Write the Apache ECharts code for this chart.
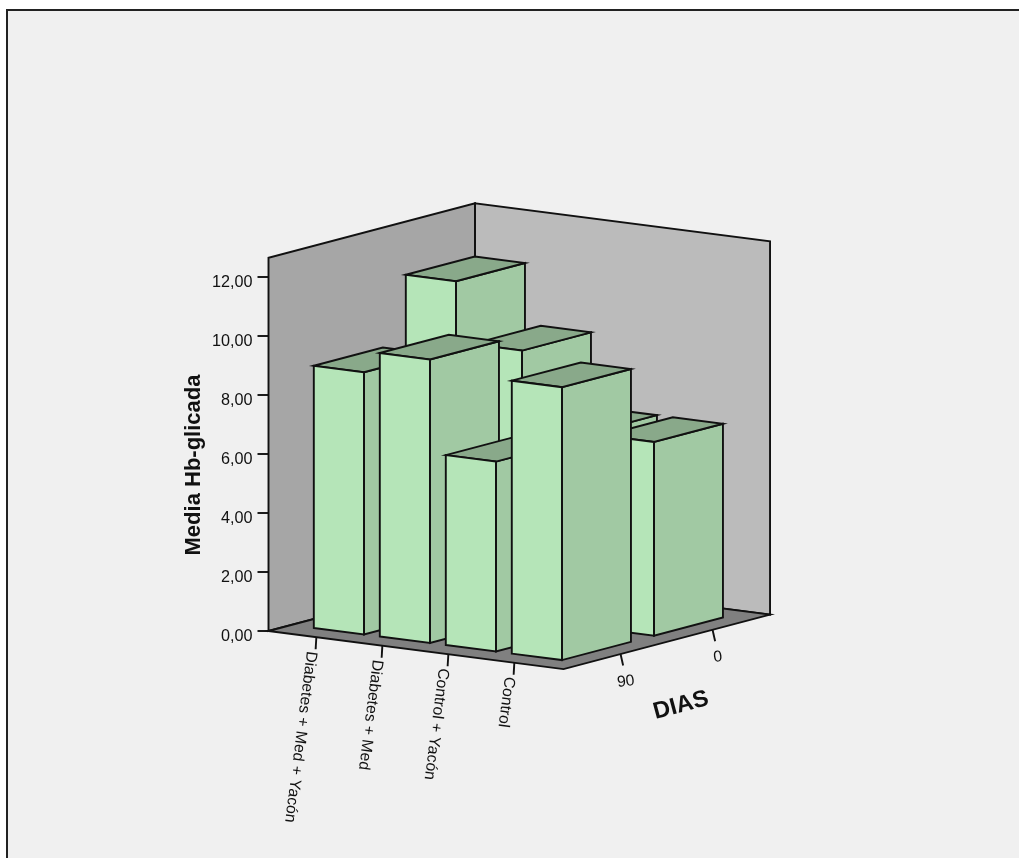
<!DOCTYPE html>
<html>
<head>
<meta charset="utf-8">
<style>html,body{margin:0;padding:0;background:#fff}#chart{width:1019px;height:858px}</style>
<script src="https://cdn.jsdelivr.net/npm/echarts@6/dist/echarts.min.js"></script>
</head>
<body>
<div id="chart"></div>
<script>
// Mean glycated haemoglobin per treatment group and day
const categories = ['Diabetes + Med + Yacón', 'Diabetes + Med', 'Control + Yacón', 'Control'];
const dayLabels = ['0', '90'];
const valuesDay0 = [11.15, 9.09, 6.57, 6.57];
const valuesDay90 = [8.89, 9.61, 6.44, 9.25];
const valueTicks = [0, 2, 4, 6, 8, 10, 12];

// Oblique projection: one category step and one depth step on the floor, in pixels
const CAT_SLANT = 8.53;
const DEPTH_DX = 92;
const DEPTH_DY = -24.3;
const CAT_MIN = -0.725, CAT_MAX = 3.745;
const DEPTH_TOTAL = 2.245;
const WALL_TOP = 12.65;
const BAR_U = 0.76, BAR_D = 0.75;
const DAY_DEPTH = { '90': 0.62, '0': 1.62 };

const INK = '#111';
const FONT = '"Liberation Sans", Arial, sans-serif';
const LW = 1.9;

function project(api, u, d, v) {
  const p = api.coord([u, v]);
  return [p[0] + d * DEPTH_DX, p[1] + (u - CAT_MIN) * CAT_SLANT + d * DEPTH_DY];
}
function face(points, fill) {
  return {
    type: 'polygon',
    shape: { points },
    style: { fill, stroke: INK, lineWidth: LW, lineJoin: 'miter' }
  };
}

// Walls and floor of the box
function renderBox(params, api) {
  const A = project(api, CAT_MIN, 0, 0);
  const B = project(api, CAT_MAX, 0, 0);
  const C = project(api, CAT_MAX, DEPTH_TOTAL, 0);
  const D = project(api, CAT_MIN, DEPTH_TOTAL, 0);
  const At = project(api, CAT_MIN, 0, WALL_TOP);
  const Ct = project(api, CAT_MAX, DEPTH_TOTAL, WALL_TOP);
  const Dt = project(api, CAT_MIN, DEPTH_TOTAL, WALL_TOP);
  return {
    type: 'group',
    children: [
      face([A, At, Dt, D], '#a6a6a6'),
      face([D, Dt, Ct, C], '#bbbbbb'),
      face([A, B, C, D], '#808080')
    ]
  };
}

// One bar as three visible faces
function renderBar(params, api) {
  const u = api.value(0), d = api.value(1), v = api.value(2);
  const u0 = u - BAR_U / 2, u1 = u + BAR_U / 2;
  const d0 = d - BAR_D / 2, d1 = d + BAR_D / 2;
  const fl = project(api, u0, d0, 0), fr = project(api, u1, d0, 0), br = project(api, u1, d1, 0);
  const tfl = project(api, u0, d0, v), tfr = project(api, u1, d0, v);
  const tbr = project(api, u1, d1, v), tbl = project(api, u0, d1, v);
  return {
    type: 'group',
    children: [
      face([fr, tfr, tbr, br], '#a1c9a3'),
      face([tfl, tfr, tbr, tbl], '#89a98a'),
      face([fl, fr, tfr, tfl], '#b5e5b8')
    ]
  };
}

function axisText(x, y, text, rotationDeg, extra) {
  return {
    type: 'text', x, y,
    rotation: rotationDeg * Math.PI / 180,
    style: Object.assign({
      text, fill: INK, font: '15.8px ' + FONT, align: 'center', verticalAlign: 'middle'
    }, extra || {})
  };
}
function tickLine(a, b) {
  return {
    type: 'line',
    shape: { x1: a[0], y1: a[1], x2: b[0], y2: b[1] },
    style: { stroke: INK, lineWidth: LW }
  };
}

// Group ticks and slanted names under the front edge
function renderCategoryTick(params, api) {
  const p = project(api, api.value(0), 0, 0);
  return {
    type: 'group',
    children: [
      tickLine(p, [p[0] - 0.7, p[1] + 12]),
      axisText(p[0] - 5, p[1] + 14, categories[params.dataIndex], -97.3, { align: 'left' })
    ]
  };
}

// Day ticks under the right edge
function renderDayTick(params, api) {
  const label = dayLabels[params.dataIndex];
  const p = project(api, CAT_MAX, DAY_DEPTH[label], 0);
  return {
    type: 'group',
    children: [
      tickLine(p, [p[0] + 2.6, p[1] + 11.5]),
      axisText(p[0] + 5.3, p[1] + 27.5, label, 7)
    ]
  };
}

const option = {
  backgroundColor: '#ffffff',
  animation: false,
  graphic: [{
    type: 'rect', z: -10, silent: true,
    shape: { x: 7, y: 10, width: 1020, height: 860 },
    style: { fill: '#f0f0f0', stroke: '#222', lineWidth: 2 }
  }, {
    type: 'text', z: 10, silent: true,
    x: 681, y: 705.5, rotation: 15 * Math.PI / 180, originX: 0, originY: 0,
    style: { text: 'DIAS', fill: INK, font: 'bold 23.5px ' + FONT, align: 'center', verticalAlign: 'middle' }
  }],
  grid: { left: 268.5, top: 277, width: 295, height: 354 },
  xAxis: { type: 'value', min: CAT_MIN, max: CAT_MAX, show: false },
  yAxis: {
    type: 'value', min: valueTicks[0], max: valueTicks[valueTicks.length - 1], interval: 2,
    splitLine: { show: false },
    axisLine: { show: true, onZero: false, lineStyle: { color: INK, width: LW } },
    axisTick: { show: true, length: 11, lineStyle: { color: INK, width: LW } },
    axisLabel: {
      color: INK, fontFamily: FONT, fontSize: 16.2, margin: 16,
      verticalAlign: 'top', lineHeight: 12,
      formatter: v => v.toFixed(2).replace('.', ',')
    },
    name: 'Media Hb-glicada',
    nameLocation: 'middle', nameGap: 64, nameRotate: 90,
    nameTextStyle: { color: INK, fontFamily: FONT, fontWeight: 'bold', fontSize: 22, padding: [0, 22, 0, 0] }
  },
  series: [
    { type: 'custom', name: 'box', z: 3, silent: true, renderItem: renderBox, data: [[CAT_MIN, 0]] },
    {
      type: 'custom', name: 'DIAS 0', z: 4, silent: true, renderItem: renderBar,
      encode: { x: 0, y: 2 },
      data: valuesDay0.map((v, i) => [i, DAY_DEPTH['0'], v])
    },
    {
      type: 'custom', name: 'DIAS 90', z: 5, silent: true, renderItem: renderBar,
      encode: { x: 0, y: 2 },
      data: valuesDay90.map((v, i) => [i, DAY_DEPTH['90'], v])
    },
    {
      type: 'custom', name: 'groups', z: 6, silent: true, renderItem: renderCategoryTick,
      data: categories.map((c, i) => [i, 0])
    },
    {
      type: 'custom', name: 'days', z: 6, silent: true, renderItem: renderDayTick,
      data: dayLabels.map(() => [CAT_MAX, 0])
    }
  ]
};

echarts.init(document.getElementById('chart'), null, { renderer: 'canvas' }).setOption(option);
</script>
</body>
</html>
